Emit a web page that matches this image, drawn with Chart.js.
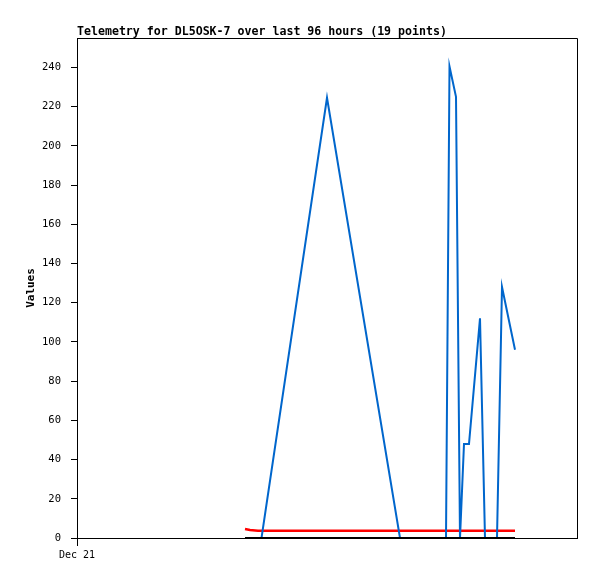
<!DOCTYPE html>
<html>
<head>
<meta charset="utf-8">
<style>
  html, body { margin: 0; padding: 0; background: #fff; }
  #wrap { width: 597px; height: 579px; }
</style>
<script src="https://cdn.jsdelivr.net/npm/chart.js@4/dist/chart.umd.min.js"></script>
</head>
<body>
<div id="wrap"><canvas id="mainChart" width="597" height="579"></canvas></div>
<script>
// Telemetry chart, values

const chartTitle = 'Telemetry for DL5OSK-7 over last 96 hours (19 points)';

// x position in hours from the start of the axis
const hours = [33.6, 34.6, 36.2, 36.9, 50.0, 64.6, 73.8, 74.5, 75.8, 76.6, 77.4, 78.4, 80.6, 81.6, 84.0, 85.0, 87.6];

const blueValues  = [0, 0, 0, 0, 224.5, 0, 0, 240.5, 225, 0, 48, 48, 112, 0, 0, 128, 96];
const redValues   = [4.6, 4.1, 3.7, 3.7, 3.7, 3.7, 3.7, 3.7, 3.7, 3.7, 3.7, 3.7, 3.7, 3.7, 3.7, 3.7, 3.7];
const blackValues = [0, 0, 0, 0, 0, 0, 0, 0, 0, 0, 0, 0, 0, 0, 0, 0, 0];

const xTickValues = [0];
const xTickLabels = ['Dec 21'];

const monoFont = '"DejaVu Sans Mono", "Liberation Mono", monospace';

function toPoints(vals) {
  return hours.map((h, i) => ({ x: h, y: vals[i] }));
}

// frame around the plot + title drawn at plot's left edge
const framePlugin = {
  id: 'frame',
  afterDraw(chart) {
    const { ctx, chartArea: a } = chart;
    ctx.save();
    ctx.strokeStyle = '#000';
    ctx.lineWidth = 1;
    ctx.beginPath();
    ctx.moveTo(a.left, Math.round(a.top) + 0.5);
    ctx.lineTo(Math.round(a.right) + 0.5, Math.round(a.top) + 0.5);
    ctx.lineTo(Math.round(a.right) + 0.5, a.bottom);
    ctx.stroke();
    ctx.fillStyle = '#000';
    ctx.font = 'bold 11.6px ' + monoFont;
    ctx.textBaseline = 'middle';
    ctx.textAlign = 'left';
    ctx.fillText(chartTitle, a.left, 31.5);
    ctx.restore();
  }
};

new Chart(document.getElementById('mainChart').getContext('2d'), {
  type: 'line',
  data: {
    datasets: [
      { data: toPoints(blackValues), borderColor: '#000000', borderWidth: 2 },
      { data: toPoints(blueValues), borderColor: '#0066cc', borderWidth: 2 },
      { data: toPoints(redValues), borderColor: '#ff0000', borderWidth: 2.5 }
    ]
  },
  options: {
    responsive: false,
    animation: false,
    events: [],
    layout: { padding: { left: 0, right: 20, top: 38, bottom: 0 } },
    elements: { point: { radius: 0 }, line: { tension: 0 } },
    plugins: {
      legend: { display: false },
      tooltip: { enabled: false },
      title: { display: false }
    },
    scales: {
      x: {
        type: 'linear',
        min: 0,
        max: 100,
        afterBuildTicks: s => { s.ticks = xTickValues.map(v => ({ value: v })); },
        afterFit: s => { s.height = 41; },
        ticks: {
          autoSkip: false,
          maxRotation: 0,
          padding: 3,
          color: '#000',
          font: { family: monoFont, size: 10 },
          callback: (v) => xTickLabels[xTickValues.indexOf(v)] || ''
        },
        grid: { drawOnChartArea: false, drawTicks: true, tickLength: 8, color: '#000' },
        border: { color: '#000', width: 1 }
      },
      y: {
        min: 0,
        max: 255,
        afterBuildTicks: s => { s.ticks = s.ticks.filter(t => t.value % 20 === 0); },
        afterFit: s => { s.width = 77; },
        ticks: {
          stepSize: 20,
          padding: 10,
          color: '#000',
          font: { family: monoFont, size: 10.5 }
        },
        grid: { drawOnChartArea: false, drawTicks: true, tickLength: 6, color: '#000' },
        border: { color: '#000', width: 1 },
        title: {
          display: true,
          text: 'Values',
          color: '#000',
          font: { family: monoFont, size: 11, weight: 'bold' },
          padding: { top: 25, bottom: 0 }
        }
      }
    }
  },
  plugins: [framePlugin]
});
</script>
</body>
</html>
